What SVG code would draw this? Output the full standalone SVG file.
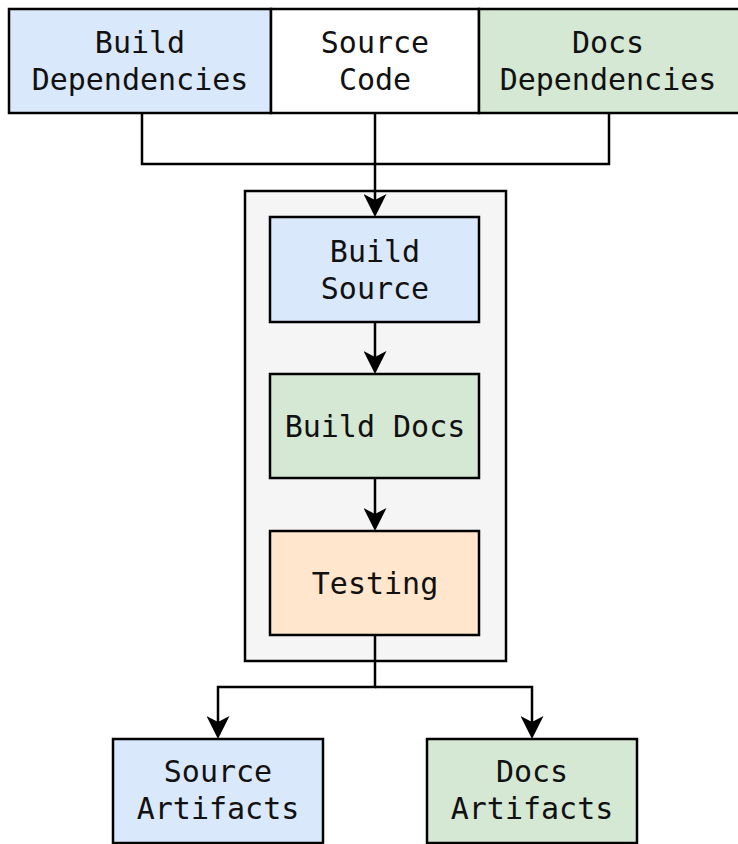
<svg xmlns="http://www.w3.org/2000/svg" width="738" height="844" viewBox="0 0 738 844">
  <style>
    .box { stroke: #000; stroke-width: 2.5; }
    .blue { fill: #dae8fc; }
    .green { fill: #d5e8d4; }
    .orange { fill: #ffe6cc; }
    .white { fill: #ffffff; }
    .grey { fill: #f5f5f5; }
    .lbl { font-family: "DejaVu Sans Mono", "Liberation Mono", monospace; font-size: 30px; fill: #111; text-anchor: middle; }
    .wire { fill: none; stroke: #000; stroke-width: 2.5; stroke-linejoin: miter; }
  </style>
  <defs>
    <!-- filled arrowhead; its notch sits on the end of the line -->
    <marker id="arrow" viewBox="0 0 23 23" refX="8" refY="11.5" markerWidth="23" markerHeight="23" markerUnits="userSpaceOnUse" orient="auto">
      <path d="M0,0 L23,11.5 L0,23 L6,11.5 Z" fill="#000"/>
    </marker>
  </defs>
  <rect width="738" height="844" fill="#ffffff"/>

  <!-- inputs -->
  <g id="build-dependencies">
    <rect class="box blue" x="9" y="9" width="262" height="104"/>
    <text class="lbl" x="140" y="53">Build</text>
    <text class="lbl" x="140" y="90">Dependencies</text>
  </g>
  <g id="source-code">
    <rect class="box white" x="271" y="9" width="208" height="104"/>
    <text class="lbl" x="375" y="53">Source</text>
    <text class="lbl" x="375" y="90">Code</text>
  </g>
  <g id="docs-dependencies">
    <rect class="box green" x="479" y="9" width="262" height="104"/>
    <text class="lbl" x="608" y="53">Docs</text>
    <text class="lbl" x="608" y="90">Dependencies</text>
  </g>

  <!-- pipeline container -->
  <g id="pipeline">
    <rect class="box grey" x="245" y="191" width="261" height="470"/>
  </g>
  <g id="build-source">
    <rect class="box blue" x="270" y="217" width="209" height="105"/>
    <text class="lbl" x="375" y="262">Build</text>
    <text class="lbl" x="375" y="299">Source</text>
  </g>
  <g id="build-docs">
    <rect class="box green" x="270" y="374" width="209" height="104"/>
    <text class="lbl" x="375" y="437">Build Docs</text>
  </g>
  <g id="testing">
    <rect class="box orange" x="270" y="531" width="209" height="104"/>
    <text class="lbl" x="375" y="594">Testing</text>
  </g>

  <!-- outputs -->
  <g id="source-artifacts">
    <rect class="box blue" x="113" y="739" width="210" height="104"/>
    <text class="lbl" x="218" y="782">Source</text>
    <text class="lbl" x="218" y="819">Artifacts</text>
  </g>
  <g id="docs-artifacts">
    <rect class="box green" x="427" y="739" width="210" height="104"/>
    <text class="lbl" x="532" y="782">Docs</text>
    <text class="lbl" x="532" y="819">Artifacts</text>
  </g>

  <g id="connectors">
    <path class="wire" d="M142,113 V164 H375"/>
    <path class="wire" d="M609,113 V164 H375"/>
    <path class="wire" d="M375,113 V202" marker-end="url(#arrow)"/>
    <path class="wire" d="M375,322 V359" marker-end="url(#arrow)"/>
    <path class="wire" d="M375,478 V516" marker-end="url(#arrow)"/>
    <path class="wire" d="M375,635 V687 H218 V724" marker-end="url(#arrow)"/>
    <path class="wire" d="M375,687 H532 V724" marker-end="url(#arrow)"/>
  </g>
</svg>
